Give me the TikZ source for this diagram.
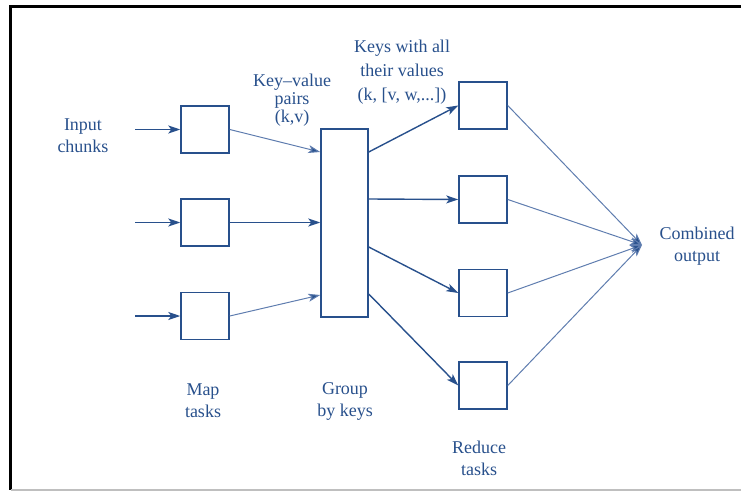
\documentclass[tikz,border=0pt]{standalone}
\usepackage{fontspec}
\setmainfont{Liberation Serif}
\usepackage{tikz}
\usetikzlibrary{positioning, arrows.meta}
\definecolor{mrblue}{RGB}{40,80,140}
\definecolor{mrlight}{RGB}{95,125,175}

\begin{document}
\begin{tikzpicture}[
    x=1pt, y=-1pt,
    task/.style={draw=mrblue, line width=1.5pt, minimum width=48pt, minimum height=47pt, inner sep=0pt},
    lbl/.style={text=mrblue, align=center, font=\fontsize{18}{22}\selectfont},
    arr/.style={-{Stealth[length=12pt, width=8pt, inset=3pt]}, line width=1.4pt, draw=mrblue},
    larr/.style={-{Stealth[length=12pt, width=8pt, inset=3pt, fill=mrblue]}, line width=1pt, draw=mrlight},
]
\useasboundingbox (0,0) rectangle (741,492);
% frame
\draw[line width=3pt] (741,7) -- (10.5,7) -- (10.5,490);
\draw[gray!50, line width=1.5pt] (10.5,490) -- (741,490);

% === Map side ===
\node[lbl] at (83,136) (input-label) {Input\\chunks};
\coordinate (in1) at (135,129.5);
\coordinate (in2) at (135,222.5);
\coordinate (in3) at (135,316);

\node[task] at (205,129.5) (map1) {};
\node[task] at (205,222.5) (map2) {};
\node[task] at (205,316) (map3) {};
\node[lbl] at (203,401) (map-label) {Map\\tasks};

\draw[arr] (in1) -- (map1);
\draw[arr] (in2) -- (map2);
\draw[arr] (in3) -- (map3);

% === Grouping ===
\node[task, minimum height=188pt, minimum width=47pt] at (344.5,223) (group) {};
\node[lbl] at (345,401) (group-label) {Group\\by keys};
\node[lbl, font=\fontsize{18}{18}\selectfont] at (292,100) (kv-label) {Key--value\\pairs\\(k,v)};

\draw[larr] (map1.east) -- ([yshift=71pt]group.west);
\draw[arr] (map2.east) -- ([yshift=0.5pt]group.west);
\draw[larr] (map3.east) -- ([yshift=-72pt]group.west);

% === Reduce side ===
\node[task] at (483,105.5) (red1) {};
\node[task] at (483,199.5) (red2) {};
\node[task] at (483,293) (red3) {};
\node[task] at (483,385.5) (red4) {};
\node[lbl, font=\fontsize{18}{24}\selectfont] at (402,72) (keys-label) {Keys with all\\their values\\(k, [v, w,...])};
\node[lbl] at (479,458) (reduce-label) {Reduce\\tasks};

\draw[arr] ([yshift=71pt]group.east) -- (red1.west);
\draw[arr] ([yshift=24pt]group.east) -- (red2.west);
\draw[arr] ([yshift=-24pt]group.east) -- (red3.west);
\draw[arr] ([yshift=-71pt]group.east) -- (red4.west);

% === Output ===
\coordinate (out) at (642,245);
\node[lbl] at (697,246) (out-label) {Combined\\output};

\draw[larr] (red1.east) -- (out);
\draw[larr] (red2.east) -- (out);
\draw[larr] (red3.east) -- (out);
\draw[larr] (red4.east) -- (out);

\end{tikzpicture}
\end{document}
